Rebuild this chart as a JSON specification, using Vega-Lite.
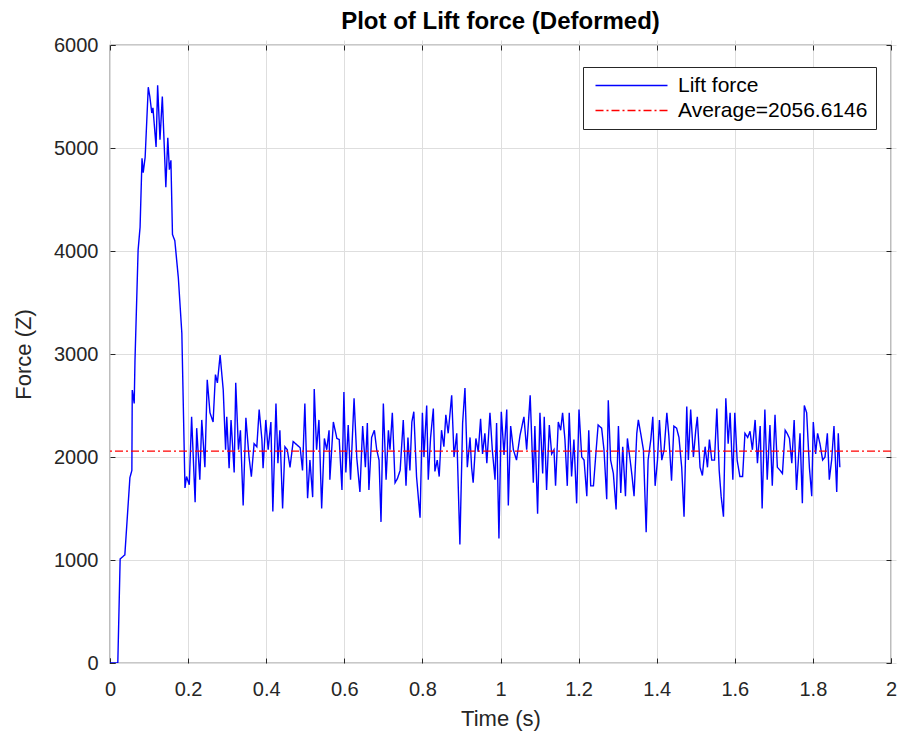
{
  "$schema": "https://vega.github.io/schema/vega-lite/v6.json",
  "width": 781,
  "height": 618,
  "autosize": {"type": "none"},
  "padding": {"left": 110, "top": 45, "right": 12, "bottom": 79},
  "background": "white",
  "title": {"text": "Plot of Lift force (Deformed)", "fontSize": 24, "fontWeight": "bold", "font": "Liberation Sans", "color": "#000000", "offset": 1, "anchor": "middle"},
  "config": {
    "font": "Liberation Sans",
    "view": {"stroke": "#262626", "strokeWidth": 1.2},
    "axis": {
      "labelFont": "Liberation Sans", "labelFontSize": 20, "labelColor": "#262626", "labelFlush": false,
      "titleFont": "Liberation Sans", "titleFontSize": 22, "titleFontWeight": "normal", "titleColor": "#262626",
      "grid": true, "gridColor": "#dedede", "gridWidth": 1,
      "domain": false, "ticks": true, "tickColor": "#262626", "tickSize": 5, "tickWidth": 1, "offset": -5
    },
    "legend": {
      "orient": "none", "legendX": 473, "legendY": 22,
      "strokeColor": "#262626", "fillColor": "white", "padding": 8,
      "labelFont": "Liberation Sans", "labelFontSize": 21, "labelColor": "#000000", "labelLimit": 400,
      "symbolType": "M-1,0L11,0", "symbolSize": 144, "symbolStrokeWidth": 1.4,
      "rowPadding": 3, "labelOffset": 66
    }
  },
  "datasets": {
    "lift": [
      {"t":0,"f":0},{"t":0.02,"f":0},{"t":0.026,"f":1010},{"t":0.038,"f":1050},{"t":0.051,"f":1800},{"t":0.056,"f":1870},{"t":0.057,"f":2650},{"t":0.062,"f":2520},{"t":0.064,"f":2940},{"t":0.072,"f":4010},{"t":0.077,"f":4230},{"t":0.082,"f":4900},{"t":0.085,"f":4760},{"t":0.09,"f":4910},{"t":0.098,"f":5590},{"t":0.102,"f":5500},{"t":0.107,"f":5340},{"t":0.11,"f":5390},{"t":0.118,"f":5010},{"t":0.122,"f":5610},{"t":0.128,"f":5080},{"t":0.134,"f":5500},{"t":0.143,"f":4620},{"t":0.148,"f":5100},{"t":0.152,"f":4790},{"t":0.156,"f":4880},{"t":0.16,"f":4160},{"t":0.166,"f":4100},{"t":0.175,"f":3740},{"t":0.184,"f":3200},{"t":0.192,"f":1700},{"t":0.196,"f":1810},{"t":0.203,"f":1730},{"t":0.209,"f":2390},{"t":0.218,"f":1560},{"t":0.222,"f":2280},{"t":0.23,"f":1780},{"t":0.235,"f":2360},{"t":0.243,"f":1900},{"t":0.249,"f":2750},{"t":0.256,"f":2430},{"t":0.264,"f":2340},{"t":0.27,"f":2800},{"t":0.275,"f":2720},{"t":0.282,"f":2990},{"t":0.29,"f":2650},{"t":0.296,"f":2070},{"t":0.299,"f":2390},{"t":0.305,"f":1890},{"t":0.31,"f":2360},{"t":0.318,"f":1850},{"t":0.322,"f":2720},{"t":0.329,"f":2070},{"t":0.334,"f":2260},{"t":0.341,"f":1530},{"t":0.348,"f":2380},{"t":0.356,"f":2000},{"t":0.362,"f":1810},{"t":0.369,"f":2130},{"t":0.376,"f":2100},{"t":0.382,"f":2460},{"t":0.389,"f":2170},{"t":0.392,"f":1890},{"t":0.399,"f":2360},{"t":0.405,"f":2070},{"t":0.412,"f":2340},{"t":0.417,"f":1470},{"t":0.425,"f":2520},{"t":0.43,"f":1940},{"t":0.435,"f":2260},
      {"t":0.442,"f":1500},{"t":0.448,"f":2100},{"t":0.454,"f":2070},{"t":0.461,"f":1900},{"t":0.469,"f":2150},{"t":0.478,"f":2120},{"t":0.487,"f":2090},{"t":0.493,"f":1870},{"t":0.499,"f":2520},{"t":0.506,"f":1600},{"t":0.512,"f":1970},{"t":0.519,"f":1610},{"t":0.523,"f":2660},{"t":0.529,"f":2070},{"t":0.535,"f":2360},{"t":0.542,"f":1500},{"t":0.549,"f":2180},{"t":0.555,"f":2070},{"t":0.561,"f":2260},{"t":0.563,"f":1780},{"t":0.572,"f":2340},{"t":0.581,"f":2180},{"t":0.587,"f":2170},{"t":0.594,"f":1680},{"t":0.599,"f":2630},{"t":0.604,"f":1850},{"t":0.61,"f":2310},{"t":0.616,"f":1780},{"t":0.625,"f":2570},{"t":0.632,"f":1990},{"t":0.64,"f":1660},{"t":0.647,"f":2300},{"t":0.654,"f":1900},{"t":0.659,"f":2330},{"t":0.663,"f":1680},{"t":0.67,"f":2190},{"t":0.677,"f":2260},{"t":0.683,"f":2070},{"t":0.689,"f":1970},{"t":0.694,"f":1370},{"t":0.7,"f":2520},{"t":0.707,"f":1780},{"t":0.713,"f":2260},{"t":0.717,"f":2070},{"t":0.723,"f":2430},{"t":0.73,"f":1750},{"t":0.736,"f":1790},{"t":0.743,"f":1870},{"t":0.751,"f":2360},{"t":0.758,"f":1720},{"t":0.763,"f":2190},{"t":0.768,"f":1870},{"t":0.773,"f":2340},{"t":0.778,"f":2440},{"t":0.785,"f":1810},{"t":0.794,"f":1410},{"t":0.8,"f":2430},{"t":0.804,"f":2000},{"t":0.811,"f":2500},{"t":0.815,"f":1780},{"t":0.821,"f":2190},{"t":0.828,"f":2470},{"t":0.832,"f":1860},{"t":0.838,"f":1970},{"t":0.843,"f":1810},{"t":0.849,"f":2260},{"t":0.855,"f":2100},{"t":0.86,"f":2410},{"t":0.866,"f":2230},{"t":0.875,"f":2600},{"t":0.881,"f":2000},{"t":0.888,"f":2230},{"t":0.896,"f":1150},{"t":0.903,"f":2330},{"t":0.909,"f":2670},{"t":0.915,"f":1900},{"t":0.922,"f":2190},{"t":0.926,"f":1900},{"t":0.93,"f":1750},{"t":0.937,"f":2180},{"t":0.943,"f":2050},{"t":0.949,"f":2370},{"t":0.954,"f":2030},{"t":0.96,"f":2230},{"t":0.965,"f":1940},{"t":0.973,"f":2430},{"t":0.979,"f":2070},{"t":0.986,"f":1780},{"t":0.99,"f":2330},{"t":0.996,"f":1210},{"t":1.002,"f":2440},{"t":1.009,"f":2020},{"t":1.016,"f":2460},{"t":1.02,"f":1530},{"t":1.026,"f":2300},{"t":1.033,"f":2070},{"t":1.041,"f":1970},{"t":1.05,"f":2210},
      {"t":1.06,"f":2390},{"t":1.067,"f":2070},{"t":1.076,"f":2600},{"t":1.084,"f":1750},{"t":1.088,"f":2300},{"t":1.095,"f":1450},{"t":1.101,"f":2430},{"t":1.108,"f":1840},{"t":1.112,"f":2390},{"t":1.118,"f":1680},{"t":1.125,"f":2310},{"t":1.131,"f":2030},{"t":1.137,"f":2070},{"t":1.141,"f":1720},{"t":1.148,"f":2340},{"t":1.154,"f":2260},{"t":1.159,"f":2430},{"t":1.165,"f":2170},{"t":1.171,"f":1720},{"t":1.176,"f":2430},{"t":1.182,"f":1810},{"t":1.188,"f":2170},{"t":1.195,"f":1550},{"t":1.201,"f":2460},{"t":1.208,"f":2000},{"t":1.214,"f":1970},{"t":1.221,"f":1620},{"t":1.226,"f":2260},{"t":1.231,"f":1720},{"t":1.238,"f":1720},{"t":1.245,"f":2070},{"t":1.25,"f":2310},{"t":1.259,"f":2280},{"t":1.265,"f":2070},{"t":1.272,"f":1590},{"t":1.276,"f":2550},{"t":1.282,"f":1970},{"t":1.289,"f":1840},{"t":1.296,"f":1490},{"t":1.302,"f":2300},{"t":1.308,"f":1650},{"t":1.313,"f":2100},{"t":1.32,"f":1620},{"t":1.325,"f":2180},{"t":1.332,"f":1970},{"t":1.337,"f":1810},{"t":1.342,"f":1620},{"t":1.349,"f":2230},{"t":1.353,"f":2360},{"t":1.359,"f":2230},{"t":1.366,"f":2070},{"t":1.373,"f":1270},{"t":1.378,"f":1970},{"t":1.385,"f":2170},{"t":1.39,"f":2390},{"t":1.396,"f":1720},{"t":1.402,"f":1970},{"t":1.407,"f":2360},{"t":1.413,"f":1970},{"t":1.419,"f":2070},{"t":1.426,"f":2430},{"t":1.431,"f":2210},{"t":1.438,"f":1770},{"t":1.444,"f":2300},{"t":1.451,"f":2280},{"t":1.457,"f":2190},{"t":1.464,"f":1900},{"t":1.47,"f":1420},{"t":1.477,"f":2490},{"t":1.481,"f":1970},{"t":1.487,"f":2460},{"t":1.494,"f":2000},{"t":1.5,"f":2260},{"t":1.504,"f":2390},{"t":1.511,"f":1900},{"t":1.517,"f":1820},{"t":1.524,"f":2100},{"t":1.53,"f":1900},{"t":1.535,"f":2170},{"t":1.541,"f":1970},{"t":1.548,"f":1970},{"t":1.554,"f":2470},{"t":1.56,"f":1870},{"t":1.565,"f":1620},{"t":1.571,"f":1420},{"t":1.577,"f":2570},{"t":1.583,"f":2130},{"t":1.588,"f":2430},{"t":1.595,"f":1780},{"t":1.6,"f":2430},{"t":1.606,"f":1970},{"t":1.613,"f":1810},{"t":1.62,"f":1810},{"t":1.626,"f":2230},{"t":1.633,"f":2190},{"t":1.639,"f":2250},{"t":1.645,"f":2070},{"t":1.652,"f":2360},{"t":1.658,"f":1940},{"t":1.665,"f":2300},{"t":1.67,"f":1500},{"t":1.677,"f":2460},{"t":1.683,"f":1780},{"t":1.69,"f":2310},{"t":1.696,"f":1720},{"t":1.703,"f":2410},{"t":1.709,"f":1900},{"t":1.716,"f":1870},{"t":1.722,"f":1840},{"t":1.729,"f":2260},{"t":1.734,"f":2230},{"t":1.74,"f":2180},{"t":1.746,"f":1940},{"t":1.752,"f":2360},{"t":1.758,"f":1680},{"t":1.767,"f":2230},{"t":1.773,"f":1550},{"t":1.778,"f":2500},{"t":1.784,"f":2430},{"t":1.791,"f":1900},{"t":1.797,"f":1620},{"t":1.801,"f":2340},{"t":1.807,"f":2030},{"t":1.812,"f":2230},{"t":1.818,"f":2130},{"t":1.825,"f":1970},{"t":1.831,"f":2000},{"t":1.837,"f":2230},{"t":1.842,"f":1780},{"t":1.848,"f":1970},{"t":1.854,"f":2300},{"t":1.861,"f":1660},{"t":1.865,"f":2230},{"t":1.869,"f":1900}
    ],
    "avg": [{"label": "Average=2056.6146", "f": 2056.6146}]
  },
  "resolve": {"axis": {"x": "independent", "y": "independent"}},
  "layer": [
    {
      "data": {"name": "lift"},
      "mark": {"type": "line", "strokeWidth": 1.4, "clip": true},
      "encoding": {
        "x": {"field": "t", "type": "quantitative", "scale": {"domain": [0, 2], "nice": false, "zero": false},
              "axis": {"title": "Time (s)", "orient": "bottom", "values": [0, 0.2, 0.4, 0.6, 0.8, 1, 1.2, 1.4, 1.6, 1.8, 2], "format": "~g", "labelPadding": 16, "titlePadding": 9}},
        "y": {"field": "f", "type": "quantitative", "scale": {"domain": [0, 6000], "nice": false},
              "axis": {"title": "Force (Z)", "orient": "left", "values": [0, 1000, 2000, 3000, 4000, 5000, 6000], "format": "d", "labelPadding": 12, "titlePadding": 18}},
        "color": {"datum": "Lift force", "type": "nominal",
                  "scale": {"domain": ["Lift force", "Average=2056.6146"], "range": ["#0000ff", "#ff0000"]},
                  "legend": {"title": null}},
        "strokeDash": {"datum": "Lift force", "type": "nominal",
                  "scale": {"domain": ["Lift force", "Average=2056.6146"], "range": [[1, 0], [8, 3, 2, 3]]},
                  "legend": {"title": null}}
      }
    },
    {
      "data": {"name": "avg"},
      "mark": {"type": "rule", "strokeWidth": 1.3},
      "encoding": {
        "y": {"field": "f", "type": "quantitative", "axis": null},
        "color": {"field": "label", "type": "nominal", "legend": {"title": null}},
        "strokeDash": {"field": "label", "type": "nominal", "legend": {"title": null}}
      }
    },
    {
      "data": {"name": "lift"},
      "mark": {"type": "line", "opacity": 0},
      "encoding": {
        "x": {"field": "t", "type": "quantitative",
              "axis": {"title": null, "orient": "top", "values": [0, 0.2, 0.4, 0.6, 0.8, 1, 1.2, 1.4, 1.6, 1.8, 2], "labels": false, "grid": false}},
        "y": {"field": "f", "type": "quantitative",
              "axis": {"title": null, "orient": "right", "values": [0, 1000, 2000, 3000, 4000, 5000, 6000], "labels": false, "grid": false}}
      }
    }
  ]
}
